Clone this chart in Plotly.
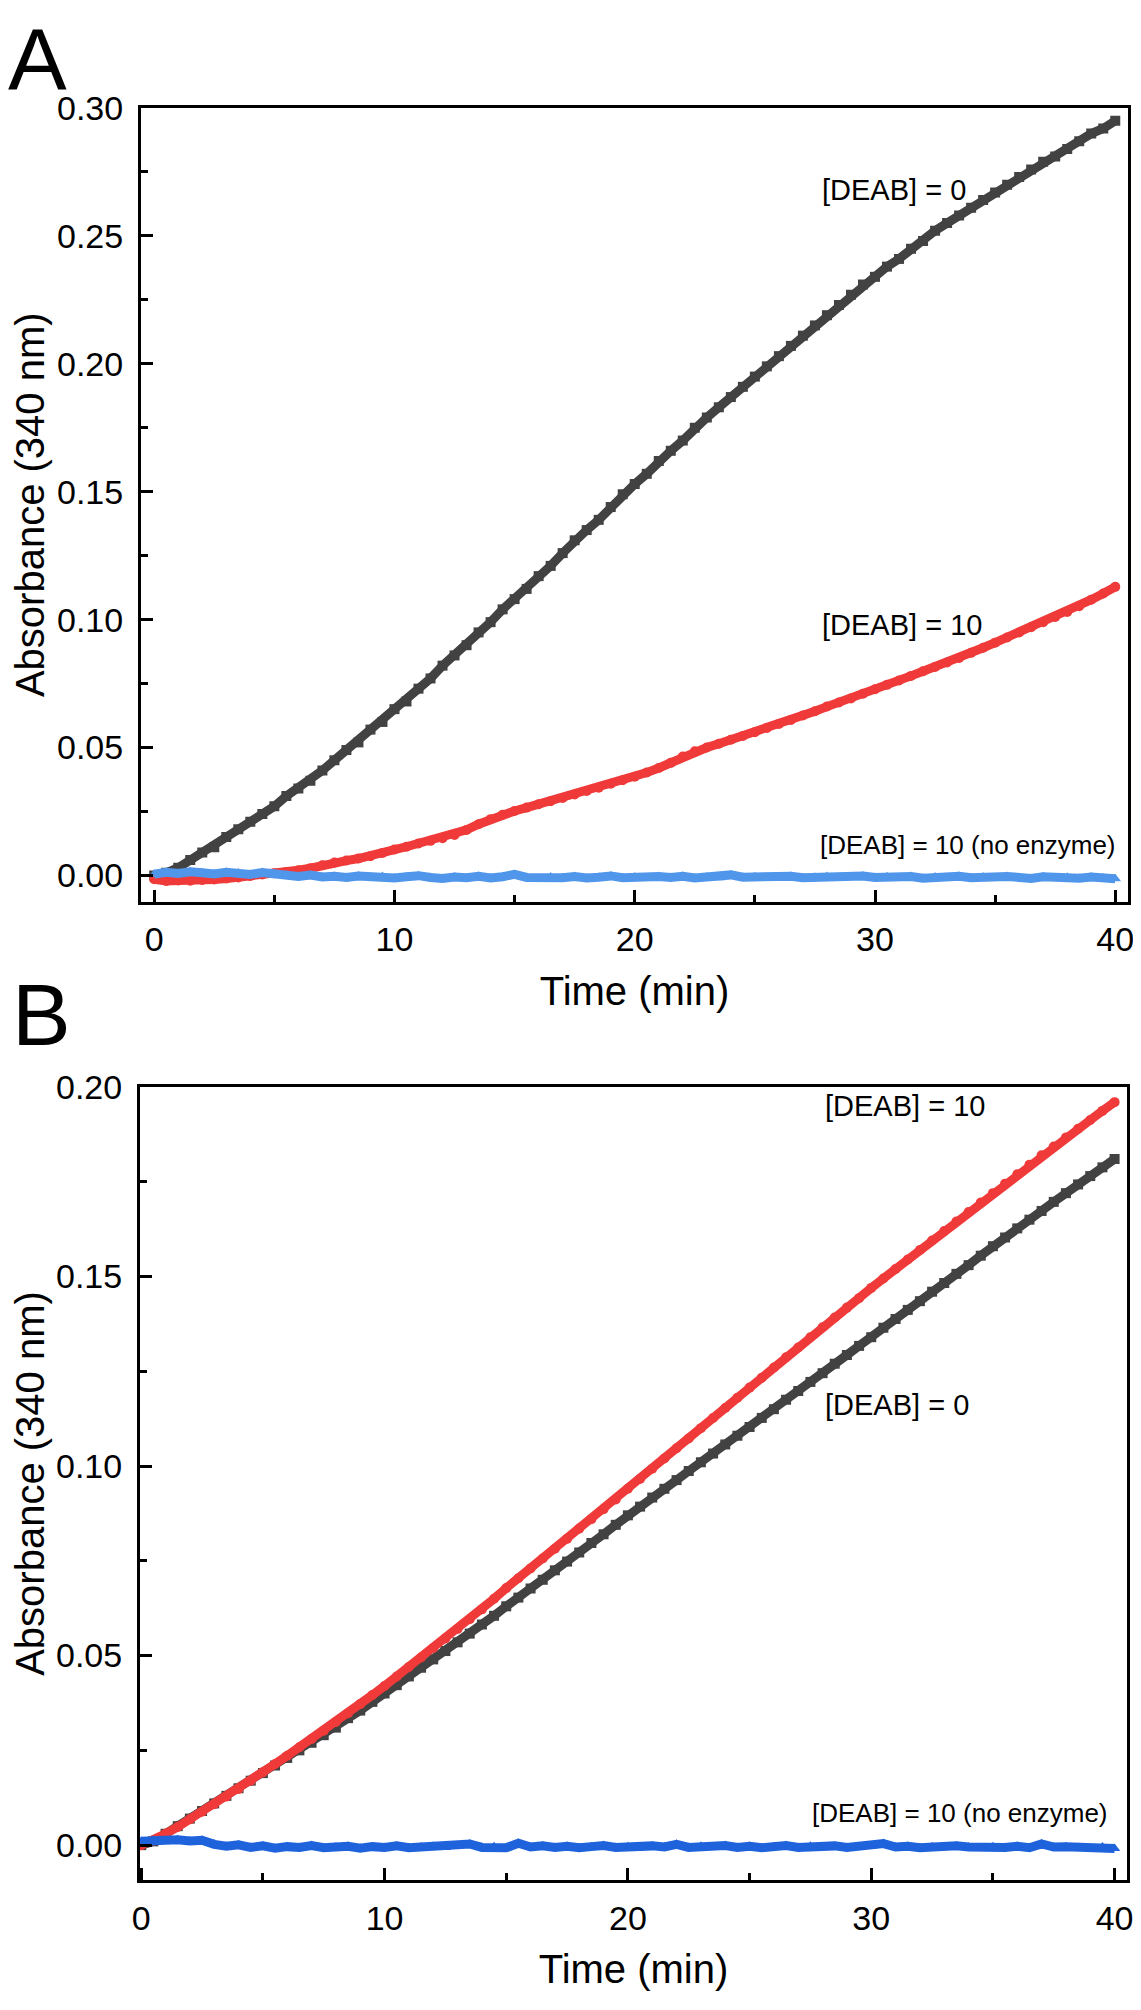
import plotly.graph_objects as go

# ---------------- data (time in min, absorbance at 340 nm) ----------------
time_min = [i * 0.5 for i in range(81)]

a_deab0 = [
    0.000, 0.001, 0.003, 0.006, 0.009, 0.011, 0.015, 0.018, 0.021, 0.024,
    0.027, 0.031, 0.034, 0.037, 0.041, 0.045, 0.049, 0.052, 0.057, 0.060,
    0.065, 0.068, 0.073, 0.077, 0.082, 0.086, 0.090, 0.095, 0.099, 0.104,
    0.108, 0.112, 0.117, 0.121, 0.126, 0.131, 0.135, 0.139, 0.144, 0.149,
    0.153, 0.157, 0.162, 0.166, 0.170, 0.175, 0.179, 0.183, 0.187, 0.191,
    0.195, 0.199, 0.203, 0.207, 0.211, 0.215, 0.219, 0.223, 0.227, 0.231,
    0.234, 0.238, 0.241, 0.245, 0.248, 0.252, 0.255, 0.258, 0.261, 0.264,
    0.267, 0.270, 0.273, 0.276, 0.279, 0.281, 0.284, 0.287, 0.290, 0.292,
    0.295,
]
a_deab10 = [
    -0.0015, -0.0022, -0.0020, -0.0021, -0.0018, -0.0016, -0.0012, -0.0008, -0.0002, 0.0004,
    0.0008, 0.0013, 0.0020, 0.0028, 0.0040, 0.0050, 0.0058, 0.0066, 0.0075, 0.0088,
    0.0101, 0.0112, 0.0125, 0.0135, 0.0145, 0.0158, 0.0178, 0.0200, 0.0220, 0.0237,
    0.0252, 0.0265, 0.0278, 0.0290, 0.0303, 0.0316, 0.0330, 0.0343, 0.0358, 0.0372,
    0.0386, 0.0402, 0.0420, 0.0440, 0.0465, 0.0485, 0.0500, 0.0515, 0.0530, 0.0545,
    0.0560, 0.0576, 0.0592, 0.0608, 0.0625, 0.0642, 0.0660, 0.0676, 0.0692, 0.0710,
    0.0728, 0.0745, 0.0762, 0.0780, 0.0798, 0.0815, 0.0832, 0.0850, 0.0870, 0.0890,
    0.0910, 0.0930, 0.0950, 0.0970, 0.0990, 0.1010, 0.1030, 0.1052, 0.1078, 0.1102,
    0.1128,
]
a_noenz = [
    0.0005, 0.0012, 0.0008, 0.0014, 0.0010, 0.0006, 0.0012, 0.0009, 0.0004, 0.0011,
    0.0007, 0.0002, -0.0004, 0.0001, -0.0006, -0.0003, -0.0008, -0.0002, -0.0007, -0.0004,
    -0.0010, -0.0005, -0.0001, -0.0008, -0.0012, -0.0006, -0.0009, -0.0003, -0.0010, -0.0005,
    0.0004, -0.0008, -0.0011, -0.0006, -0.0009, -0.0004, -0.0010, -0.0007, -0.0002, -0.0009,
    -0.0006, -0.0011, -0.0004, -0.0008, -0.0003, -0.0010, -0.0006, -0.0009, 0.0002, -0.0007,
    -0.0005, -0.0010, -0.0006, -0.0003, -0.0009, -0.0007, -0.0004, -0.0010, -0.0006, -0.0002,
    -0.0008, -0.0005, -0.0009, -0.0004, -0.0011, -0.0006, -0.0008, -0.0003, -0.0009, -0.0006,
    -0.0010, -0.0004, -0.0008, -0.0012, -0.0005, -0.0009, -0.0007, -0.0011, -0.0006, -0.0010,
    -0.0013,
]

b_deab0 = [
    0.0000, 0.0010, 0.0030, 0.0050, 0.0070, 0.0090, 0.0110, 0.0130, 0.0150, 0.0170,
    0.0190, 0.0210, 0.0230, 0.0250, 0.0270, 0.0290, 0.0310, 0.0335, 0.0355, 0.0378,
    0.0400, 0.0422, 0.0445, 0.0468, 0.0490, 0.0512, 0.0535, 0.0558, 0.0582, 0.0605,
    0.0630, 0.0653, 0.0677, 0.0700, 0.0725, 0.0748, 0.0772, 0.0797, 0.0820, 0.0845,
    0.0870, 0.0893, 0.0917, 0.0940, 0.0963, 0.0987, 0.1010, 0.1033, 0.1057, 0.1080,
    0.1103, 0.1127, 0.1150, 0.1175, 0.1198, 0.1222, 0.1245, 0.1270, 0.1293, 0.1317,
    0.1340, 0.1365, 0.1388, 0.1412, 0.1435, 0.1460, 0.1483, 0.1507, 0.1530, 0.1555,
    0.1580, 0.1603, 0.1627, 0.1650, 0.1673, 0.1697, 0.1720, 0.1743, 0.1765, 0.1788,
    0.1810,
]
b_deab10 = [
    0.0000, 0.0012, 0.0030, 0.0048, 0.0068, 0.0088, 0.0108, 0.0128, 0.0148, 0.0170,
    0.0192, 0.0214, 0.0236, 0.0258, 0.0280, 0.0302, 0.0325, 0.0348, 0.0372, 0.0396,
    0.0420, 0.0445, 0.0470, 0.0495, 0.0520, 0.0545, 0.0570, 0.0596, 0.0622, 0.0650,
    0.0678, 0.0704, 0.0730, 0.0756, 0.0782, 0.0808, 0.0835, 0.0860, 0.0886, 0.0912,
    0.0940, 0.0966, 0.0993, 0.1020, 0.1047, 0.1073, 0.1100, 0.1127, 0.1153, 0.1180,
    0.1207, 0.1233, 0.1260, 0.1287, 0.1313, 0.1340, 0.1366, 0.1392, 0.1418, 0.1443,
    0.1470, 0.1495, 0.1520, 0.1545, 0.1570, 0.1595, 0.1620, 0.1645, 0.1670, 0.1695,
    0.1720, 0.1745, 0.1770, 0.1795, 0.1820, 0.1843, 0.1867, 0.1890, 0.1913, 0.1937,
    0.1960,
]
b_noenz = [
    0.0010, 0.0013, 0.0012, 0.0014, 0.0011, 0.0013, 0.0002, -0.0003, 0.0001, -0.0006,
    -0.0002, -0.0008, -0.0004, -0.0006, -0.0001, -0.0007, -0.0005, -0.0003, -0.0008, -0.0004,
    -0.0006, -0.0002, -0.0007, -0.0005, -0.0003, -0.0006, -0.0001, 0.0003, -0.0006, -0.0004,
    -0.0007, 0.0005, -0.0005, -0.0002, -0.0006, -0.0003, -0.0007, -0.0004, -0.0001, -0.0006,
    -0.0004, -0.0007, -0.0002, -0.0005, 0.0002, -0.0006, -0.0003, -0.0005, -0.0001, -0.0006,
    -0.0003, -0.0007, -0.0004, -0.0001, -0.0006, -0.0003, -0.0005, -0.0002, -0.0006, -0.0004,
    -0.0002, 0.0004, -0.0005, -0.0003, -0.0007, -0.0004, -0.0006, -0.0002, -0.0005, -0.0007,
    -0.0004, -0.0006, -0.0003, -0.0007, 0.0003, -0.0005, -0.0004, -0.0006, -0.0008, -0.0005,
    -0.0009,
]

x_ticks = [0, 10, 20, 30, 40]
a_yticks = [0.00, 0.05, 0.10, 0.15, 0.20, 0.25, 0.30]
b_yticks = [0.00, 0.05, 0.10, 0.15, 0.20]
label_deab0 = "[DEAB] = 0"
label_deab10 = "[DEAB] = 10"
label_noenz = "[DEAB] = 10 (no enzyme)"

# ---------------- styles ----------------
PAGE_W, PAGE_H = 1141, 2010
BODY_MARGIN = 8            # default <body> margin of the written page
W, H = PAGE_W - 2 * BODY_MARGIN, PAGE_H - 2 * BODY_MARGIN
FONT = "Liberation Sans, Arial, sans-serif"
BLACK_C = "#424242"
RED_C = "#f03a3a"
BLUE_A = "#5096ea"
BLUE_B = "#1f63dc"


def px_x(p):
    """page pixel (from left) -> paper fraction"""
    return (p - BODY_MARGIN) / W


def px_y(p):
    """page pixel (from top) -> paper fraction"""
    return 1 - (p - BODY_MARGIN) / H


fig = go.Figure()


def add_series(x, y, color, symbol, xa, ya):
    fig.add_trace(go.Scatter(
        x=x, y=y, mode="lines+markers", xaxis=xa, yaxis=ya,
        line=dict(color=color, width=9),
        marker=dict(color=color, symbol=symbol, size=10),
        showlegend=False, hoverinfo="skip"))


add_series(time_min, a_deab0, BLACK_C, "square", "x", "y")
add_series(time_min, a_deab10, RED_C, "circle", "x", "y")
add_series(time_min, a_noenz, BLUE_A, "triangle-up", "x", "y")
add_series(time_min, b_deab0, BLACK_C, "square", "x2", "y2")
add_series(time_min, b_deab10, RED_C, "circle", "x2", "y2")
add_series(time_min, b_noenz, BLUE_B, "triangle-up", "x2", "y2")

axis_common = dict(
    showline=True, linecolor="black", linewidth=3, mirror=True,
    ticks="inside", ticklen=12, tickwidth=3, tickcolor="black",
    showgrid=False, zeroline=False, automargin=False,
    ticklabeloverflow="allow",
    tickfont=dict(family=FONT, size=34, color="black"),
)

xa = dict(axis_common, tickvals=x_ticks, ticktext=[str(v) for v in x_ticks],
          minor=dict(dtick=5, tick0=0, ticks="inside", ticklen=7, tickwidth=3, tickcolor="black"),
          title=dict(text="Time (min)", font=dict(family=FONT, size=40, color="black"), standoff=20),
          ticklabelstandoff=6)
ya = dict(axis_common,
          minor=dict(dtick=0.025, tick0=0, ticks="inside", ticklen=7, tickwidth=3, tickcolor="black"),
          title=dict(text="Absorbance (340 nm)", font=dict(family=FONT, size=40, color="black"), standoff=13),
          ticklabelstandoff=8)

fig.update_layout(
    template="none",
    width=W, height=H,
    margin=dict(l=0, r=0, t=0, b=0),
    paper_bgcolor="white", plot_bgcolor="white",
    xaxis=dict(xa, domain=[px_x(141), px_x(1128)], range=[-0.55, 40.53], anchor="y"),
    yaxis=dict(ya, domain=[px_y(901.5), px_y(108)], range=[-0.0102, 0.30], anchor="x",
               tickvals=a_yticks, ticktext=[f"{v:.2f}" for v in a_yticks]),
    xaxis2=dict(xa, domain=[px_x(140), px_x(1127)], range=[-0.05, 40.51], anchor="y2"),
    yaxis2=dict(ya, domain=[px_y(1880), px_y(1087)], range=[-0.0092, 0.20], anchor="x2",
                tickvals=b_yticks, ticktext=[f"{v:.2f}" for v in b_yticks]),
)

ann_font = dict(family=FONT, size=29, color="black")
ann_font_small = dict(family=FONT, size=26, color="black")
anns = [
    dict(x=27.7, y=0.268, xref="x", yref="y", text=label_deab0, xanchor="left", font=ann_font),
    dict(x=27.7, y=0.098, xref="x", yref="y", text=label_deab10, xanchor="left", font=ann_font),
    dict(x=40.1, y=0.012, xref="x", yref="y", text=label_noenz, xanchor="right", font=ann_font_small),
    dict(x=28.0, y=0.195, xref="x2", yref="y2", text=label_deab10, xanchor="left", font=ann_font),
    dict(x=28.0, y=0.116, xref="x2", yref="y2", text=label_deab0, xanchor="left", font=ann_font),
    dict(x=39.8, y=0.0085, xref="x2", yref="y2", text=label_noenz, xanchor="right", font=ann_font_small),
]
for a in anns:
    a.update(showarrow=False, yanchor="middle")
    fig.add_annotation(**a)

panel_font = dict(family=FONT, size=88, color="black")
fig.add_annotation(x=px_x(6), y=px_y(8), xref="paper", yref="paper", text="A",
                   showarrow=False, xanchor="left", yanchor="top", font=panel_font)
fig.add_annotation(x=px_x(10), y=px_y(1014), xref="paper", yref="paper", text="B",
                   showarrow=False, xanchor="left", yanchor="middle", font=panel_font)

fig.write_html("out.html")
